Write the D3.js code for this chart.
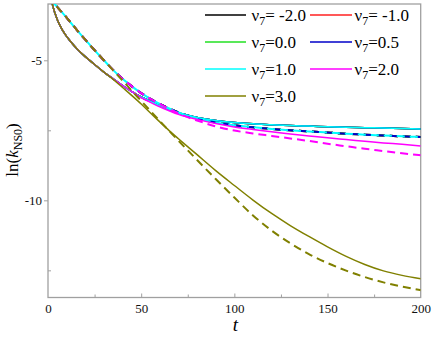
<!DOCTYPE html>
<html>
<head>
<meta charset="utf-8">
<script src="https://cdn.jsdelivr.net/npm/d3@7"></script>
<style>
  body { margin: 0; background: #fff; }
  svg text { font-family: 'Liberation Serif', 'Times New Roman', Times, 'DejaVu Serif', serif; }
</style>
</head>
<body>
<svg class="chart" width="436" height="339"></svg>
<script>

// t grid for solid and dashed curves
const tSolid = [0.3, 1, 2.5, 5, 8, 12, 16, 20, 25, 30, 35, 40, 45, 50, 55, 60, 65, 70, 80, 90, 100, 110, 120, 130, 140, 150, 160, 170, 180, 190, 200];
const tDash = [0, 5, 10, 15, 20, 25, 30, 35, 40, 45, 50, 55, 60, 65, 70, 80, 90, 100, 110, 120, 130, 140, 150, 160, 170, 180, 190, 200];

// nu7 = -2.0 .. 1.0 almost coincide
const lowSolid = [-2.0, -2.55, -3.04, -3.55, -3.95, -4.32, -4.62, -4.87, -5.15, -5.42, -5.66, -5.90, -6.12, -6.31, -6.47, -6.62, -6.75, -6.87, -7.04, -7.15, -7.22, -7.27, -7.30, -7.33, -7.35, -7.37, -7.39, -7.405, -7.42, -7.435, -7.45];
const lowDash = [-2.72, -3.10, -3.48, -3.88, -4.26, -4.64, -5.00, -5.35, -5.66, -5.93, -6.17, -6.38, -6.56, -6.72, -6.86, -7.07, -7.22, -7.32, -7.39, -7.45, -7.50, -7.54, -7.58, -7.62, -7.655, -7.685, -7.715, -7.74];

// nu7 = 2.0
const magSolid = [-2.0, -2.55, -3.04, -3.55, -3.95, -4.32, -4.62, -4.87, -5.15, -5.42, -5.66, -5.90, -6.12, -6.33, -6.50, -6.66, -6.80, -6.93, -7.11, -7.26, -7.38, -7.47, -7.55, -7.63, -7.70, -7.77, -7.83, -7.89, -7.95, -8.00, -8.06];
const magDash = [-2.72, -3.10, -3.48, -3.88, -4.26, -4.64, -5.00, -5.35, -5.66, -5.93, -6.17, -6.38, -6.56, -6.74, -6.90, -7.15, -7.36, -7.51, -7.61, -7.70, -7.79, -7.88, -7.98, -8.07, -8.16, -8.24, -8.32, -8.39];

// nu7 = 3.0
const oliveSolid = [-2.0, -2.55, -3.04, -3.55, -3.95, -4.32, -4.62, -4.87, -5.15, -5.42, -5.68, -5.97, -6.26, -6.56, -6.88, -7.20, -7.51, -7.80, -8.37, -8.94, -9.47, -9.99, -10.47, -10.90, -11.29, -11.66, -12.00, -12.29, -12.52, -12.68, -12.80];
const oliveDash = [-2.72, -3.10, -3.48, -3.88, -4.26, -4.64, -5.00, -5.36, -5.72, -6.09, -6.45, -6.81, -7.17, -7.52, -7.87, -8.56, -9.24, -9.90, -10.54, -11.08, -11.53, -11.92, -12.24, -12.51, -12.74, -12.93, -13.08, -13.21];

const nuLabels = ["= -2.0", "= -1.0", "=0.0", "=0.5", "=1.0", "=2.0", "=3.0"];
const nuColors = ["#000000", "#ff2020", "#22e022", "#0000c8", "#00ffff", "#ff00ff", "#808000"];
const solidSets = [lowSolid, lowSolid, lowSolid, lowSolid, lowSolid, magSolid, oliveSolid];
const dashSets = [lowDash, lowDash, lowDash, lowDash, lowDash, magDash, oliveDash];

const xTicks = [0, 50, 100, 150, 200];
const xMinor = [25, 75, 125, 175];
const yTicks = [-5, -10];
const yMinor = [-7.5, -12.5];

const serif = "'Liberation Serif', 'Times New Roman', Times, 'DejaVu Serif', serif";
const svg = d3.select('.chart');
const box = { l: 48, r: 420.7, t: 4, b: 297.5 };

const x = d3.scaleLinear().domain([0, 200]).range([box.l, box.r]);
const y = d3.scaleLinear().domain([-13.47, -2.99]).range([box.b, box.t]);

svg.append('defs').append('clipPath').attr('id', 'clip')
    .append('rect')
    .attr('x', box.l).attr('y', box.t)
    .attr('width', box.r - box.l).attr('height', box.b - box.t);

const axisColor = '#a0a0a0';

// frame
svg.append('rect')
    .attr('x', box.l).attr('y', box.t)
    .attr('width', box.r - box.l).attr('height', box.b - box.t)
    .attr('fill', 'none').attr('stroke', axisColor).attr('stroke-width', 1.3);

function styleAxis(g) {
    g.attr('font-family', serif);
    g.select('.domain').remove();
    g.selectAll('line').attr('stroke', axisColor).attr('stroke-width', 1);
    g.selectAll('text').attr('fill', '#111').attr('font-family', serif).style('font-size', '13px');
}

svg.append('g').attr('transform', `translate(0,${box.b})`)
    .call(d3.axisBottom(x).tickValues(xTicks).tickSize(0).tickPadding(6).tickFormat(d => String(d)))
    .call(styleAxis);
svg.append('g').attr('transform', `translate(0,${box.b})`)
    .call(d3.axisBottom(x).tickValues(xMinor).tickSize(-3).tickFormat(''))
    .call(styleAxis);
svg.append('g').attr('transform', `translate(0,${box.b})`)
    .call(d3.axisBottom(x).tickValues(xTicks.slice(1, -1)).tickSize(-4).tickFormat(''))
    .call(styleAxis);

svg.append('g').attr('transform', `translate(${box.l},0)`)
    .call(d3.axisLeft(y).tickValues(yTicks).tickSize(4).tickPadding(2).tickFormat(d => String(d)))
    .call(styleAxis);
svg.append('g').attr('transform', `translate(${box.l},0)`)
    .call(d3.axisLeft(y).tickValues(yMinor).tickSize(-3).tickFormat(''))
    .call(styleAxis);

// curves
const plot = svg.append('g').attr('clip-path', 'url(#clip)');
const line = d3.line().x(d => x(d[0])).y(d => y(d[1])).curve(d3.curveMonotoneX);

nuColors.forEach((c, i) => {
    plot.append('path')
        .datum(tDash.map((t, j) => [t, dashSets[i][j]]))
        .attr('fill', 'none').attr('stroke', c)
        .attr('stroke-width', 2)
        .attr('stroke-dasharray', '8,5')
        .attr('stroke-dashoffset', i === 4 ? 6 : 0)
        .attr('d', line);
    plot.append('path')
        .datum(tSolid.map((t, j) => [t, solidSets[i][j]]))
        .attr('fill', 'none').attr('stroke', c)
        .attr('stroke-width', 1.5)
        .attr('d', line);
});

// axis titles
svg.append('text')
    .attr('x', x(100) + 1).attr('y', 331)
    .attr('text-anchor', 'middle')
    .attr('font-family', serif)
    .style('font-size', '19px').style('font-style', 'italic')
    .text('t');

const yl = svg.append('text')
    .attr('transform', 'translate(18,150) rotate(-90)')
    .attr('text-anchor', 'middle')
    .attr('font-family', serif)
    .style('font-size', '17px');
yl.append('tspan').text('ln(');
yl.append('tspan').style('font-style', 'italic').text('k');
yl.append('tspan').attr('dy', 4).style('font-size', '12px').text('NS0');
yl.append('tspan').attr('dy', -4).text(')');

// legend
const legX = [[205, 246, 251.5], [310, 352, 354.5]];
nuLabels.forEach((lab, i) => {
    const col = i % 2, row = Math.floor(i / 2);
    const ly = 15 + row * 27;
    const g = svg.append('g');
    g.append('line')
        .attr('x1', legX[col][0]).attr('x2', legX[col][1])
        .attr('y1', ly).attr('y2', ly)
        .attr('stroke', nuColors[i]).attr('stroke-width', 1.5);
    const t = g.append('text')
        .attr('x', legX[col][2]).attr('y', ly + 6)
        .attr('font-family', serif)
        .style('font-size', '17px');
    t.append('tspan').text('ν');
    t.append('tspan').attr('dy', 4).style('font-size', '12px').text('7');
    t.append('tspan').attr('dy', -4).text(lab);
});

</script>
</body>
</html>
